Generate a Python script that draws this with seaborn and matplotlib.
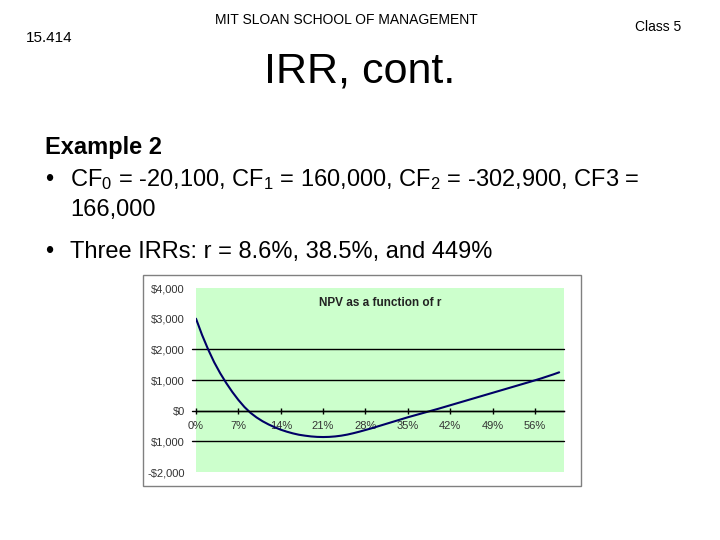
import matplotlib
matplotlib.use("Agg")
import matplotlib.pyplot as plt
from matplotlib.patches import Rectangle
import seaborn as sns
import pandas as pd

# NPV, one point per 1% of r (0% .. 60%)
rates = list(range(0, 61))
npv = [3000, 2470, 2000, 1580, 1220, 900, 610, 350, 120, -70,
       -220, -345, -450, -540, -620, -685, -740, -785, -815, -840,
       -855, -860, -855, -840, -815, -780, -735, -685, -630, -575,
       -515, -455, -395, -335, -275, -215, -160, -105, -50, 5,
       60, 118, 176, 234, 292, 350, 408, 466, 524, 582,
       640, 698, 756, 814, 872, 930, 990, 1050, 1115, 1180, 1250]

x_ticks = [0, 7, 14, 21, 28, 35, 42, 49, 56]
x_tick_labels = ["0%", "7%", "14%", "21%", "28%", "35%", "42%", "49%", "56%"]
y_ticks = [4000, 3000, 2000, 1000, 0, -1000, -2000]
y_tick_labels = ["$4,000", "$3,000", "$2,000", "$1,000", "$0", "$1,000", "-$2,000"]
grid_levels = [2000, 1000, 0, -1000]

sns.set_style("white")
plt.rcParams["font.family"] = ["Liberation Sans", "DejaVu Sans"]
plt.rcParams["text.color"] = "black"
plt.rcParams["mathtext.fontset"] = "custom"
plt.rcParams["mathtext.rm"] = "Liberation Sans"
plt.rcParams["mathtext.it"] = "Liberation Sans:italic"

W, H = 720, 540
fig = plt.figure(figsize=(7.2, 5.4), dpi=100)
fig.patch.set_facecolor("white")


def px(x, y):
    return x / W, 1 - y / H


# slide header and text
fig.text(*px(26, 38), "15.414", fontsize=11, va="center", ha="left")
fig.text(*px(346, 20), "MIT SLOAN SCHOOL OF MANAGEMENT", fontsize=10, va="center", ha="center")
fig.text(*px(681, 27), "Class 5", fontsize=10, va="center", ha="right")
fig.text(*px(360, 72), "IRR, cont.", fontsize=31, va="center", ha="center")

fig.text(*px(45, 154), "Example 2", fontsize=17, fontweight="bold", va="baseline")
fig.text(*px(45, 186), "\u2022", fontsize=17, va="baseline")
fig.text(*px(70, 186),
         r"CF$_\mathrm{0}$ = -20,100, CF$_\mathrm{1}$ = 160,000, "
         r"CF$_\mathrm{2}$ = -302,900, CF3 =",
         fontsize=17, va="baseline")
fig.text(*px(70, 216), "166,000", fontsize=17, va="baseline")
fig.text(*px(45, 258), "\u2022", fontsize=17, va="baseline")
fig.text(*px(70, 258), "Three IRRs: r = 8.6%, 38.5%, and 449%", fontsize=17, va="baseline")

# chart frame
fig.patches.append(Rectangle(px(143, 486), (581 - 143) / W, (486 - 275) / H,
                             transform=fig.transFigure, fill=False,
                             edgecolor="#808080", linewidth=1))

ax = fig.add_axes([196 / W, 1 - 472 / H, 368 / W, 184 / H])
ax.set_facecolor("#CCFFCC")

df = pd.DataFrame({"rate": rates, "npv": npv})
sns.lineplot(data=df, x="rate", y="npv", ax=ax, color="#000066", linewidth=1.5)

for g in grid_levels:
    ax.axhline(g, xmin=-0.012, xmax=1, color="black", linewidth=1, clip_on=False, zorder=1)

ax.set_xlim(0, 60.8)
ax.set_ylim(-2000, 4000)
for s in ["top", "right", "left"]:
    ax.spines[s].set_visible(False)
ax.spines["bottom"].set_position(("data", 0))
ax.spines["bottom"].set_color("black")
ax.spines["bottom"].set_linewidth(1)

ax.set_xticks(x_ticks)
ax.set_xticklabels(x_tick_labels)
ax.set_yticks(y_ticks)
ax.set_yticklabels(y_tick_labels)
ax.tick_params(axis="x", direction="inout", length=5, width=1, color="black",
               labelsize=8, labelcolor="#333333", pad=5, bottom=True)
ax.tick_params(axis="y", length=0, labelsize=8, labelcolor="#333333", pad=8)
ax.set_xlabel("")
ax.set_ylabel("")

ax.text(0.5, 0.92, "NPV as a function of r", transform=ax.transAxes,
        fontsize=8.5, fontweight="bold", ha="center", va="center", color="#222222")

fig.savefig("out.png", dpi=100)
plt.close(fig)
